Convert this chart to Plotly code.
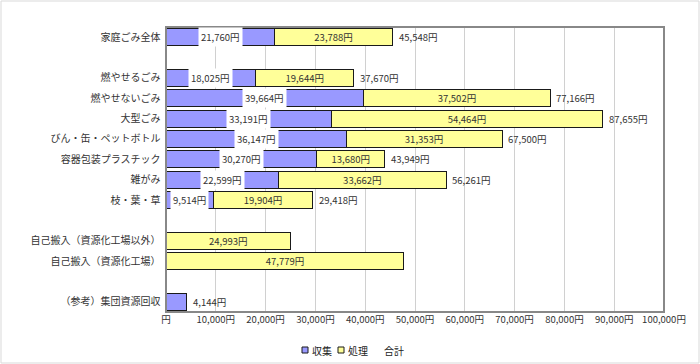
import plotly.graph_objects as go

categories = ["家庭ごみ全体", " ", "燃やせるごみ", "燃やせないごみ", "大型ごみ",
              "びん・缶・ペットボトル", "容器包装プラスチック", "雑がみ", "枝・葉・草",
              "  ", "自己搬入（資源化工場以外）", "自己搬入（資源化工場）", "   ",
              "（参考）集団資源回収"]
collection = [21760, None, 18025, 39664, 33191, 36147, 30270, 22599, 9514,
              None, None, None, None, 4144]
processing = [23788, None, 19644, 37502, 54464, 31353, 13680, 33662, 19904,
              None, 24993, 47779, None, None]
totals = [45548, None, 37670, 77166, 87655, 67500, 43949, 56261, 29418,
          None, None, None, None, 4144]
x_ticks = [0, 10000, 20000, 30000, 40000, 50000, 60000, 70000, 80000, 90000, 100000]
x_tick_labels = ["円", "10,000円", "20,000円", "30,000円", "40,000円", "50,000円",
                 "60,000円", "70,000円", "80,000円", "90,000円", "100,000円"]
legend_names = ["収集", "処理", "合計"]

FONT = "Noto Sans CJK JP"
C_COL = "#9999FF"
C_PROC = "#FFFF99"
EDGE = "#1a1a1a"
TXT = "#333333"
VFS = 9.5

def yen(v):
    return f"{v:,}円"

fig = go.Figure()
fig.add_trace(go.Bar(
    y=categories, x=collection, orientation="h", name=legend_names[0],
    marker=dict(color=C_COL, line=dict(color=EDGE, width=1)),
    showlegend=False, hoverinfo="skip"))
fig.add_trace(go.Bar(
    y=categories, x=processing, orientation="h", name=legend_names[1],
    marker=dict(color=C_PROC, line=dict(color=EDGE, width=1)),
    text=[yen(v) if v else "" for v in processing],
    textposition="inside", insidetextanchor="middle", constraintext="none",
    textfont=dict(family=FONT, size=VFS, color=TXT),
    showlegend=False, hoverinfo="skip"))

# totals
for c, t in zip(categories, totals):
    if t:
        fig.add_annotation(x=t, y=c, text=yen(t), showarrow=False,
                           xanchor="left", xshift=4,
                           font=dict(family=FONT, size=VFS, color=TXT))

# collection labels with white boxes (reference row shows only its total)
for c, v, p in zip(categories, collection, processing):
    if v and p:
        fig.add_annotation(x=v / 2, y=c, text=yen(v), showarrow=False,
                           font=dict(family=FONT, size=VFS, color=TXT),
                           bgcolor="white", borderpad=2)

L, R, T, B = 166, 36, 27, 52
W, H = 700, 364
pw = W - L - R
ph = H - T - B

def px_x(p):
    return (p - L) / pw

def px_y(p):
    return (H - B - p) / ph

# compact Excel-style legend at the bottom
shapes = [
    dict(type="rect", xref="paper", yref="paper", x0=0, x1=1, y0=0, y1=1,
         line=dict(color="#888888", width=2), layer="above"),
    dict(type="rect", xref="paper", yref="paper",
         x0=px_x(1), x1=px_x(W - 1), y0=px_y(H - 1), y1=px_y(1),
         line=dict(color="#d9d9d9", width=1)),
]
legend_items = [(legend_names[0], C_COL, 302), (legend_names[1], C_PROC, 338),
                (legend_names[2], None, 374)]
ly = 350
for name, col, x in legend_items:
    if col:
        shapes.append(dict(type="rect", xref="paper", yref="paper",
                           x0=px_x(x), x1=px_x(x + 6), y0=px_y(ly + 3), y1=px_y(ly - 3),
                           fillcolor=col, line=dict(color=EDGE, width=1)))
    fig.add_annotation(xref="paper", yref="paper", x=px_x(x + 8), y=px_y(ly),
                       xanchor="left", yanchor="middle", text=name, showarrow=False,
                       font=dict(family=FONT, size=10, color="#222"))

fig.update_layout(
    width=W, height=H,
    margin=dict(l=L, r=R, t=T, b=B),
    barmode="stack", bargap=0.17,
    showlegend=False,
    paper_bgcolor="white", plot_bgcolor="white",
    font=dict(family=FONT, size=10, color=TXT),
    xaxis=dict(range=[0, 100000], tickvals=x_ticks, ticktext=x_tick_labels,
               showgrid=True, gridcolor="#d0d0d0", gridwidth=1, automargin=False,
               zeroline=False, showline=False, ticks="",
               tickfont=dict(family=FONT, size=VFS, color=TXT)),
    yaxis=dict(categoryorder="array", categoryarray=categories, automargin=False,
               autorange="reversed", showgrid=False, ticks="",
               tickfont=dict(family=FONT, size=10, color=TXT),
               ticksuffix="  "),
    shapes=shapes,
)

fig.write_html("out.html", config={"displayModeBar": False},
               post_script="document.body.style.margin='0';")
